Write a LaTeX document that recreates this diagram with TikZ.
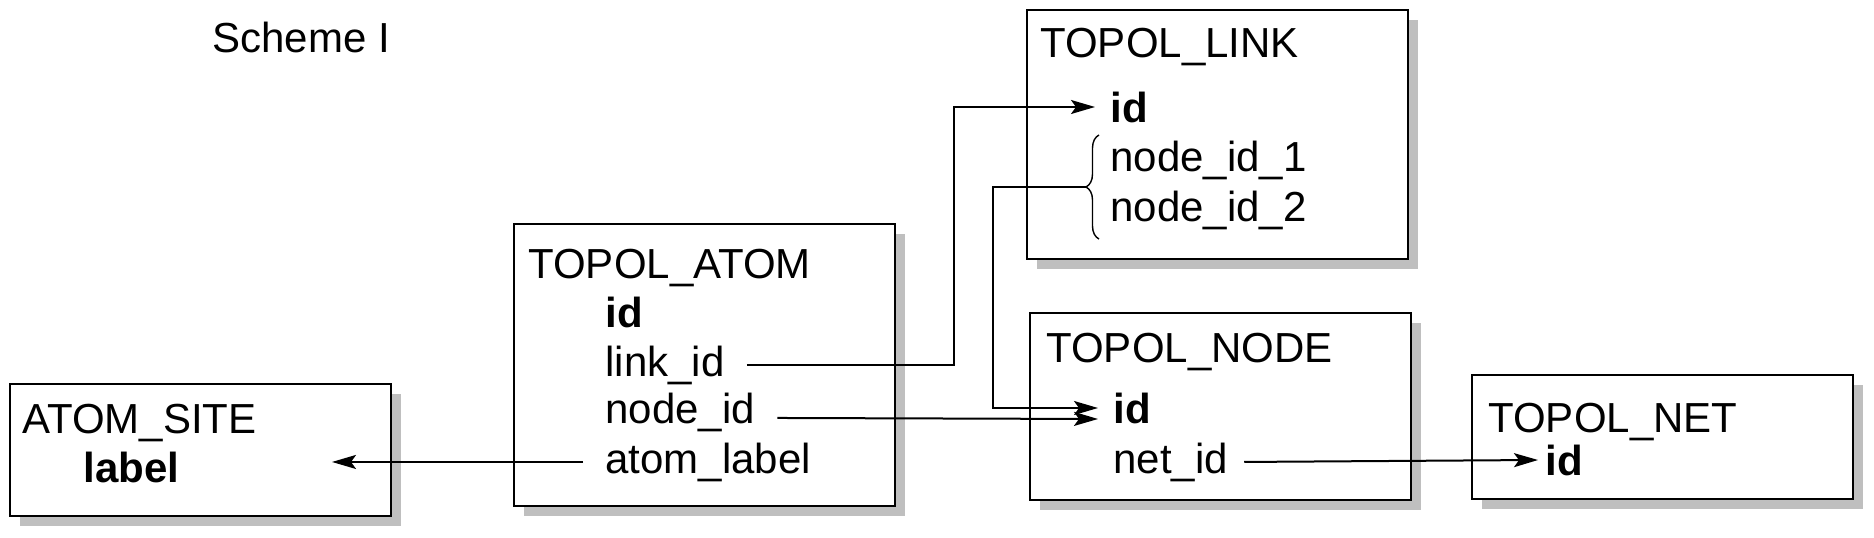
\documentclass[tikz,border=0pt]{standalone}
\usepackage{fontspec}
\setmainfont{Liberation Sans}
\usetikzlibrary{arrows.meta, positioning, shadows, decorations.pathreplacing}

\begin{document}
\begin{tikzpicture}[
    x=0.5pt, y=-0.5pt,
    every node/.style={font=\fontsize{21}{25}\selectfont, inner sep=0pt},
    tbl/.style={draw=black, line width=1pt, fill=white, rectangle, minimum width=190.5pt, drop shadow={shadow xshift=5pt, shadow yshift=-5pt, fill=black!25, opacity=1}},
    fld/.style={anchor=base west},
    key/.style={anchor=base west, font=\fontsize{21}{25}\selectfont\bfseries},
    fk/.style={line width=1pt, -{Stealth[length=12pt, width=7pt, inset=2.5pt]}}
]
\useasboundingbox (0,0) rectangle (1874,537);

\node (scheme) [fld] at (212,52) {Scheme I};

\node (atomsite) [tbl, minimum height=66pt] at (200.5,450) {};
\node (siteTitle) [fld] at (22,433) {ATOM\_SITE};
\node (siteLabel) [key] at (83,482) {label};

\node (topatom) [tbl, minimum height=141pt] at (704,365) {};
\node (atomTitle) [fld] at (528,278) {TOPOL\_ATOM};
\node (atomId) [key] at (605,327) {id};
\node (atomLink) [fld] at (605,376) {link\_id};
\node (atomNode) [fld] at (605,423) {node\_id};
\node (atomLabel) [fld] at (605,473) {atom\_label};

\node (toplink) [tbl, minimum height=124.5pt] at (1217,134.5) {};
\node (linkTitle) [fld] at (1040,57) {TOPOL\_LINK};
\node (linkId) [key] at (1110,122) {id};
\node (linkNodeA) [fld] at (1110,171) {node\_id\_1};
\node (linkNodeB) [fld] at (1110,221) {node\_id\_2};

\node (topnode) [tbl, minimum height=93.5pt] at (1220.5,406.5) {};
\node (nodeTitle) [fld] at (1046,362) {TOPOL\_NODE};
\node (nodeId) [key] at (1113,423) {id};
\node (nodeNet) [fld] at (1113,473) {net\_id};

\node (topnet) [tbl, minimum height=62pt] at (1662.5,437) {};
\node (netTitle) [fld] at (1488,432) {TOPOL\_NET};
\node (netId) [key] at (1545,475) {id};

\draw [line width=0.7pt, decorate, decoration={brace, amplitude=6.5pt}] (1099,239) -- (1099,135);
\coordinate (brTip) at (1086,187);
\coordinate (siteEnd) at (332,0);

\draw [fk] ([xshift=-11pt]atomLabel.west) -- (atomLabel.west -| siteEnd);
\draw [fk] ([xshift=11pt]atomLink.east) -- ++(207,0) |- ([xshift=-7.5pt]linkId.west);
\draw [fk] ([xshift=11pt,yshift=-3pt]atomNode.east) -- ([xshift=-7.5pt,yshift=-5.5pt]nodeId.west);
\draw [fk] (brTip) -- ++(-93,0) |- ([xshift=-7.5pt]nodeId.west);
\draw [fk] ([xshift=8pt]nodeNet.east) -- ([xshift=-3.5pt]netId.west);

\end{tikzpicture}
\end{document}
